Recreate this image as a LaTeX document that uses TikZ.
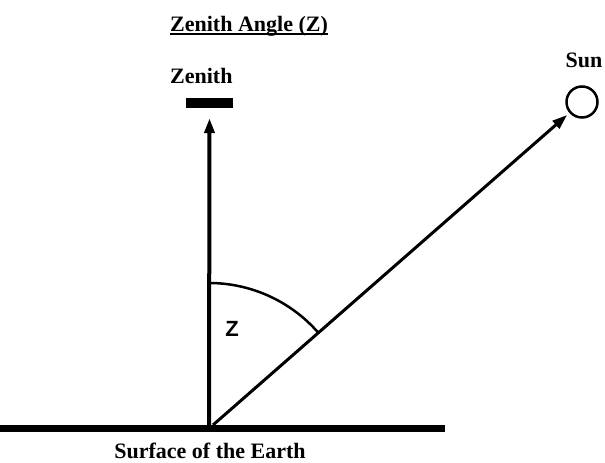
\documentclass[tikz,border=0pt]{standalone}
\usepackage{fontspec}
\setmainfont{Liberation Serif}
\newfontfamily\zsans{Liberation Sans}
\usetikzlibrary{arrows.meta}
\begin{document}
\begin{tikzpicture}[x=1pt,y=1pt,
  lbl/.style={inner sep=0pt,font=\fontsize{22}{24}\selectfont\bfseries},
  ray/.style={draw=black,-{Triangle[length=15pt,width=10pt]}}]
\useasboundingbox (0,0) rectangle (605,463);
% ground
\coordinate (gl) at (0,34.5);
\coordinate (gr) at (445,34.5);
\draw[line width=6.5pt] (gl) -- (gr);
\coordinate (base) at (209,37);
\coordinate (base2) at (213,38);
% zenith bar
\node[fill=black,minimum width=47pt,minimum height=10pt,inner sep=0pt] (bar) at (209.5,360) {};
\node[lbl,anchor=base west] (zen) at (170,379) {Zenith};
\node[lbl,anchor=base west] (title) at (170,431) {Zenith Angle (Z)};
\draw[line width=2pt] ([yshift=-2.5pt]title.base west) -- ([yshift=-2.5pt]title.base east);
% sun
\node[draw,circle,line width=2.5pt,minimum size=31pt,inner sep=0pt] (sun) at (582,361) {};
\node[lbl] (suntxt) at (584,403) {Sun};
% rays
\draw[ray,line width=4pt] (base) -- ([yshift=-10pt]bar.south);
\draw[ray,line width=3pt,shorten >=3pt] (base2) -- (sun);
% arc
\draw[line width=2.5pt] (209,180) arc[start angle=90,end angle=41.3,radius=145];
\node[inner sep=0pt,font=\zsans\fontsize{22}{24}\selectfont\bfseries] (z) at (232,134) {Z};
\node[lbl] (earth) at (210,12) {Surface of the Earth};
\end{tikzpicture}
\end{document}
